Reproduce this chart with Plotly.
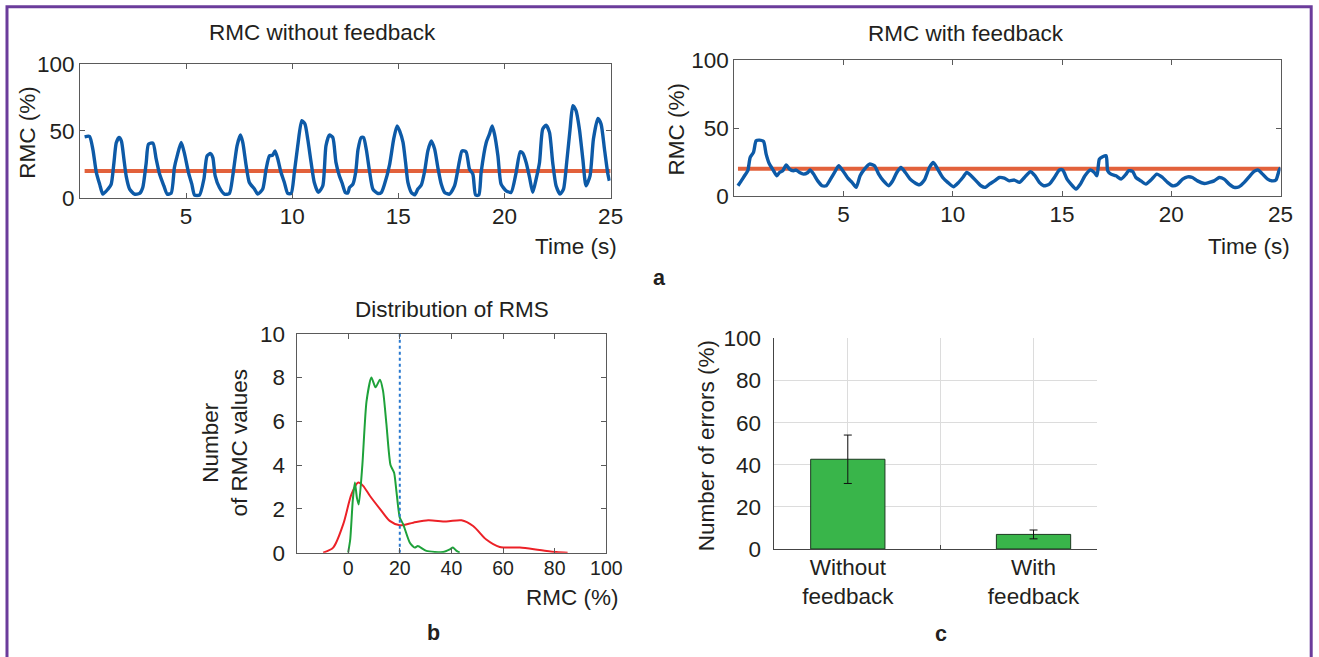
import plotly.graph_objects as go

# ---------------- data ----------------
# (a) RMC without feedback (time in s, RMC %)
t_without = [0.22, 0.45, 0.61, 0.77, 0.93, 1.08, 1.32, 1.47, 1.6, 1.71, 1.84, 1.95, 2.07, 2.18, 2.34, 2.57,
             2.81, 2.96, 3.12, 3.23, 3.44, 3.59, 3.75, 3.95, 4.11, 4.3, 4.45, 4.58, 4.77, 4.93, 5.11, 5.27,
             5.4, 5.63, 5.84, 5.99, 6.15, 6.26, 6.37, 6.57, 6.81, 7.04, 7.2, 7.4, 7.56, 7.67, 7.83, 7.98,
             8.22, 8.38, 8.61, 8.77, 8.93, 9.08, 9.19, 9.32, 9.47, 9.63, 9.79, 9.95, 10.1, 10.26, 10.45,
             10.6, 10.73, 10.89, 11.04, 11.23, 11.44, 11.59, 11.75, 11.91, 12.06, 12.22, 12.35, 12.5, 12.62,
             12.7, 12.86, 12.99, 13.1, 13.25, 13.36, 13.49, 13.65, 13.8, 14.04, 14.2, 14.35, 14.59, 14.78,
             14.94, 15.06, 15.22, 15.34, 15.45, 15.61, 15.77, 15.92, 16.08, 16.24, 16.39, 16.55, 16.71,
             16.86, 17.02, 17.18, 17.41, 17.65, 17.88, 18.0, 18.19, 18.35, 18.51, 18.64, 18.79, 18.9,
             19.14, 19.29, 19.42, 19.53, 19.69, 19.84, 20.08, 20.31, 20.55, 20.74, 20.86, 21.02, 21.18,
             21.33, 21.49, 21.65, 21.8, 21.96, 22.12, 22.27, 22.43, 22.62, 22.78, 22.93, 23.09, 23.22,
             23.37, 23.53, 23.69, 23.84, 24.03, 24.19, 24.4, 24.55, 24.71, 24.87, 24.94]
rmc_without = [45.5, 45.8, 36, 19, 10, 2.7, 6.5, 10, 26, 41, 45, 42.5, 29, 16, 6.5, 2.7,
               3.2, 7.7, 26, 40, 40.8, 29, 17.7, 9, 2.7, 3.5, 22.6, 31.3, 41.3, 32.6, 19, 10.2,
               2, 2, 14, 31.3, 33, 30, 16.4, 7.7, 2.7, 3.2, 16.4, 38.8, 46.8, 41.3, 24, 11.4,
               6.5, 2.7, 6.5, 21.4, 31.3, 31.8, 35, 29, 19, 11.4, 3.2, 3.2, 19, 38.8, 57.5,
               55, 43.8, 26.4, 11.4, 4, 9, 38.8, 46.8, 45, 26.4, 16.4, 11, 4, 3.5,
               7.7, 10.2, 19, 36, 45, 45, 36, 19, 6.5, 3.2, 4, 10.2, 25, 43.8,
               53.7, 50, 41.3, 26.4, 11.4, 4, 2.2, 6.5, 9.5, 20, 35, 42.5, 36.3,
               22.6, 10.2, 4, 2.7, 9, 27.6, 35, 34.3, 21.4, 17.7, 2, 2, 19,
               41.3, 47.5, 53.7, 47.5, 31.3, 10.2, 5.2, 4, 19, 34.3, 33.3, 26.4, 15.2,
               4, 14, 26.4, 51.2, 54.2, 48.8, 26.4, 9, 2.7, 6.5, 26.4, 51.2, 68.7,
               65, 51.2, 28.9, 9, 16.4, 43.8, 59.2, 55, 36.3, 17.7, 12.7]

# (a) RMC with feedback
t_with = [0.17, 0.32, 0.47, 0.62, 0.73, 0.88, 1.0, 1.16, 1.34, 1.46, 1.61, 1.8, 1.95, 2.07, 2.22, 2.38,
          2.53, 2.71, 2.83, 2.99, 3.17, 3.37, 3.47, 3.63, 3.82, 4.02, 4.21, 4.36, 4.59, 4.78, 4.97, 5.2,
          5.39, 5.58, 5.76, 5.96, 6.19, 6.42, 6.61, 6.83, 7.07, 7.25, 7.44, 7.63, 7.83, 8.05, 8.24, 8.47,
          8.7, 8.93, 9.11, 9.31, 9.54, 9.77, 10.03, 10.27, 10.46, 10.64, 10.84, 11.07, 11.29, 11.49,
          11.68, 11.91, 12.13, 12.36, 12.59, 12.82, 13.05, 13.28, 13.55, 13.76, 13.96, 14.16, 14.42,
          14.65, 14.88, 15.03, 15.23, 15.41, 15.64, 15.84, 16.05, 16.3, 16.48, 16.6, 16.71, 16.86,
          17.02, 17.09, 17.24, 17.47, 17.7, 17.93, 18.04, 18.23, 18.38, 18.61, 18.84, 19.07, 19.34,
          19.6, 19.83, 20.06, 20.26, 20.52, 20.75, 20.97, 21.2, 21.51, 21.74, 21.96, 22.19, 22.42,
          22.65, 22.88, 23.11, 23.34, 23.56, 23.79, 23.98, 24.18, 24.41, 24.63, 24.79, 24.94, 25.0]
rmc_with = [7.4, 11, 14.8, 18.5, 28.3, 32, 40.6, 41.1, 40.1, 30.8, 23.4, 18.5, 14.8, 17.2, 18.5, 22.7,
            19.7, 18.5, 19, 17.2, 16, 17.2, 19, 16, 11, 7.4, 7.4, 11, 17.2, 22.2, 18.5, 13,
            9.9, 6.2, 14.8, 19.7, 23.4, 22.2, 16, 11, 7.4, 11, 17.2, 20.9, 17.2, 12.3, 9.9, 8.1,
            11.6, 20.9, 24.6, 19.7, 13.5, 9.9, 6.7, 9.9, 13.5, 17.2, 14.8, 11, 7.4, 6.2,
            8.6, 11, 13.5, 13, 11, 11.6, 9.9, 13.5, 17.7, 14.8, 9.9, 7.4, 8.6,
            13.5, 19, 19, 12.3, 8.6, 4.9, 8.6, 14.8, 19, 17.2, 14.8, 27.1, 28.8,
            29.6, 18.5, 16, 14.8, 12.3, 16, 18.5, 18, 13.5, 11, 8.6, 11.6, 16,
            13.5, 9.9, 7.4, 8.1, 12.3, 14, 13.5, 11, 9.1, 9.9, 11, 13.5, 12.3,
            8.6, 6.2, 6.7, 9.9, 14, 18, 19, 16, 12.3, 11, 11.6, 19, 20.9]

threshold = 20  # RMC threshold (%)

# (b) distribution of RMC values
dist_x_without = [-9.7, -5.8, -1.9, 1.3, 3.9, 5.8, 8.4, 12.3, 16.1, 20, 25.2, 31, 38, 43.9, 48.4,
                  53.5, 58.7, 66.5, 74.2, 80.6, 85]
dist_y_without = [0, 0.23, 1.3, 2.67, 3.2, 3.05, 2.6, 2.0, 1.45, 1.25, 1.37, 1.48, 1.42, 1.48, 1.22,
                  0.6, 0.26, 0.23, 0.12, 0.03, 0]
dist_x_with = [0, 0.8, 1.8, 2.6, 3.4, 4.1, 5.5, 7.1, 9, 10.6, 12.3, 13.5, 14.8, 16.4, 17.8, 18.7, 20,
               21.3, 23.9, 25.8, 27, 30.3, 36.8, 39.4, 40.6, 42, 43.2]
dist_y_with = [0, 0.6, 2.4, 3.2, 2.5, 2.2, 4, 6.9, 8.0, 7.55, 7.9, 7.4, 5.9, 4.0, 3.65, 2.8, 1.6,
               1.3, 0.45, 0.23, 0.3, 0.08, 0.03, 0.15, 0.23, 0.08, 0]

# (c) number of errors
groups = [1, 2]
group_labels = ["Without<br>feedback", "With<br>feedback"]
errors_mean = [42.6, 6.9]
errors_sd = [11.5, 2.1]

# ---------------- page geometry ----------------
REF_W, REF_H = 1319, 657          # target picture size
VIEW_W, VIEW_H = 1334.2, 682.2    # effective rendering area observed
TOP_OFF = 11.6                    # observed offset of the plot inside the page
FW = 1334
FH = 671
SX = VIEW_W / REF_W
SY = VIEW_H / REF_H
K = (SX + SY) / 2

FONT = "Liberation Sans, Arial, sans-serif"
TXT = "#231f20"
AX = "#5a5a5a"
BLUE = "#0d5aa7"
ORANGE = "#e2613b"


def fx(px):
    return px * SX / FW


def fy(py):
    return 1 - (py * SY - TOP_OFF) / FH


def fs(size):
    return round(size * K, 1)


fig = go.Figure()

# top-left
fig.add_trace(go.Scatter(x=[t_without[0], 25], y=[threshold, threshold], mode="lines",
                         line=dict(color=ORANGE, width=4), xaxis="x", yaxis="y"))
fig.add_trace(go.Scatter(x=t_without, y=rmc_without, mode="lines",
                         line=dict(color=BLUE, width=3.4, shape="spline", smoothing=0.6),
                         xaxis="x", yaxis="y"))
# top-right
fig.add_trace(go.Scatter(x=[t_with[0], 25], y=[threshold, threshold], mode="lines",
                         line=dict(color=ORANGE, width=4), xaxis="x2", yaxis="y2"))
fig.add_trace(go.Scatter(x=t_with, y=rmc_with, mode="lines",
                         line=dict(color=BLUE, width=3.4, shape="spline", smoothing=0.6),
                         xaxis="x2", yaxis="y2"))
# distribution
fig.add_trace(go.Scatter(x=dist_x_without, y=dist_y_without, mode="lines",
                         line=dict(color="#ec2127", width=2, shape="spline", smoothing=0.8),
                         xaxis="x3", yaxis="y3"))
fig.add_trace(go.Scatter(x=dist_x_with, y=dist_y_with, mode="lines",
                         line=dict(color="#1ea23a", width=2, shape="spline", smoothing=0.6),
                         xaxis="x3", yaxis="y3"))
fig.add_trace(go.Scatter(x=[threshold, threshold], y=[0, 10], mode="lines",
                         line=dict(color="#2878cf", width=2, dash="3px,3px"),
                         xaxis="x3", yaxis="y3"))
# bars
fig.add_trace(go.Bar(x=groups, y=errors_mean, width=0.4,
                     marker=dict(color="#39b54a", line=dict(color="#1c3a20", width=1)),
                     error_y=dict(type="data", array=errors_sd, color="#111", thickness=1, width=4),
                     xaxis="x4", yaxis="y4"))

box_axis = dict(showline=True, linecolor=AX, linewidth=1, mirror="ticks", ticks="inside",
                ticklen=5, tickcolor=AX, showgrid=False, zeroline=False,
                tickfont=dict(family=FONT, size=fs(22), color=TXT))

fig.update_layout(
    width=FW, height=FH, margin=dict(l=0, r=0, t=0, b=0),
    paper_bgcolor="white", plot_bgcolor="white", showlegend=False,
    font=dict(family=FONT, color=TXT),
    xaxis=dict(box_axis, domain=[fx(80), fx(611)], range=[0, 25], tickvals=[5, 10, 15, 20, 25],
               anchor="y", ticklabelstandoff=-2),
    yaxis=dict(box_axis, domain=[fy(197), fy(63)], range=[0, 100], tickvals=[0, 50, 100], anchor="x"),
    xaxis2=dict(box_axis, domain=[fx(734.7), fx(1281.3)], range=[0, 25], tickvals=[5, 10, 15, 20, 25],
                anchor="y2", ticklabelstandoff=-2),
    yaxis2=dict(box_axis, domain=[fy(195), fy(59.6)], range=[0, 100], tickvals=[0, 50, 100], anchor="x2"),
    xaxis3=dict(box_axis, domain=[fx(296.7), fx(606.7)], range=[-20, 100],
                tickvals=[0, 20, 40, 60, 80, 100], anchor="y3", ticklabelstandoff=-2,
                tickfont=dict(family=FONT, size=fs(19), color=TXT)),
    yaxis3=dict(box_axis, domain=[fy(552), fy(333)], range=[0, 10], tickvals=[0, 2, 4, 6, 8, 10],
                anchor="x3", ticklabelstandoff=6),
    xaxis4=dict(domain=[fx(774), fx(1097.7)], range=[0.6, 2.342], tickvals=groups, ticktext=group_labels,
                showline=True, linecolor="#444", linewidth=1, ticks="", showgrid=True,
                gridcolor="#dcdcdc", gridwidth=1, zeroline=False, anchor="y4", ticklabelstandoff=-2,
                minor=dict(tickvals=[1.5], showgrid=True, gridcolor="#dcdcdc", ticks="inside",
                           ticklen=4, tickcolor="#444"),
                tickfont=dict(family=FONT, size=fs(22), color=TXT)),
    yaxis4=dict(domain=[fy(548.3), fy(337.7)], range=[0, 100], tickvals=[0, 20, 40, 60, 80, 100],
                showline=True, linecolor="#444", linewidth=1, ticks="", showgrid=True,
                gridcolor="#dcdcdc", gridwidth=1, zeroline=False, anchor="x4", ticklabelstandoff=7,
                tickfont=dict(family=FONT, size=fs(22), color=TXT)),
)


def ann(text, x, y, size=22, angle=0, xanchor="center", bold=False):
    fig.add_annotation(text=f"<b>{text}</b>" if bold else text, x=fx(x), y=fy(y),
                       xref="paper", yref="paper", showarrow=False, textangle=angle,
                       xanchor=xanchor, yanchor="middle",
                       font=dict(family=FONT, size=fs(size), color=TXT))


ann("RMC without feedback", 323, 32)
ann("RMC with feedback", 967, 33)
ann("RMC (%)", 28, 132, angle=-90)
ann("RMC (%)", 677, 129, angle=-90)
ann("Time (s)", 619, 246, xanchor="right")
ann("Time (s)", 1293, 246, xanchor="right")
ann("a", 660, 277, size=21, bold=True)
ann("Distribution of RMS", 452, 309)
ann("Number<br>of RMC values", 225, 442, angle=-90)
ann("RMC (%)", 620, 597, xanchor="right")
ann("b", 434, 632, size=21, bold=True)
ann("Number of errors (%)", 707, 445, angle=-90)
ann("c", 942, 633, size=21, bold=True)

# purple frame
fig.add_shape(type="rect", xref="paper", yref="paper", x0=fx(7), x1=fx(1312), y0=-0.05, y1=fy(6),
              line=dict(color="#6b3c9b", width=3), fillcolor="rgba(0,0,0,0)", layer="above")

fig.write_html(
    "out.html",
    config={"displayModeBar": False, "responsive": False},
    post_script="document.documentElement.style.margin='0';document.documentElement.style.padding='0';"
                "document.body.style.margin='0';document.body.style.padding='0';"
                "document.body.style.overflow='hidden';",
)
